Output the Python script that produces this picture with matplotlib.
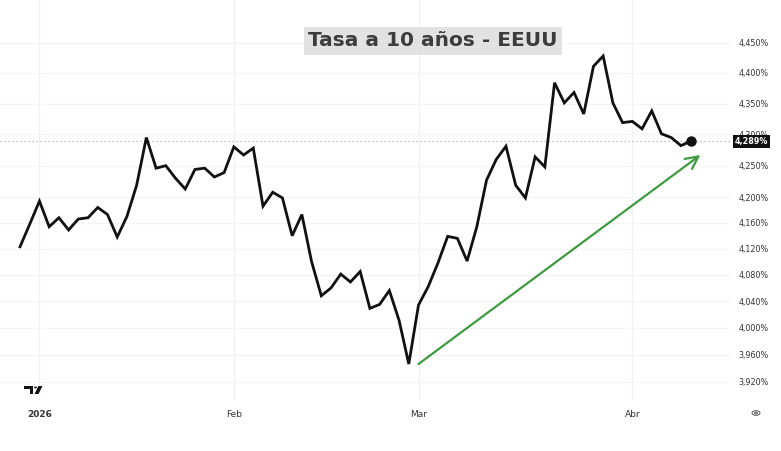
import numpy as np
import matplotlib
matplotlib.use("Agg")
import matplotlib.pyplot as plt
from matplotlib.ticker import FixedLocator, FuncFormatter, NullLocator
from matplotlib.transforms import blended_transform_factory
from matplotlib.patches import Polygon, Circle

# ---------------- data ----------------
title = "Tasa a 10 años - EEUU"
yields = [4.123, 4.158, 4.194, 4.154, 4.168, 4.149, 4.166, 4.168, 4.184, 4.173,
          4.138, 4.170, 4.219, 4.295, 4.246, 4.250, 4.230, 4.213, 4.244, 4.246,
          4.232, 4.239, 4.280, 4.267, 4.278, 4.186, 4.208, 4.199, 4.140, 4.173,
          4.100, 4.048, 4.060, 4.081, 4.069, 4.085, 4.029, 4.035, 4.056, 4.011,
          3.946, 4.034, 4.062, 4.098, 4.139, 4.136, 4.101, 4.154, 4.227, 4.260,
          4.281, 4.219, 4.199, 4.264, 4.248, 4.384, 4.351, 4.368, 4.333, 4.411,
          4.428, 4.351, 4.319, 4.321, 4.309, 4.338, 4.301, 4.295, 4.282, 4.289]
month_labels = ["2026", "Feb", "Mar", "Abr"]
month_index = [2, 22, 41, 63]
y_ticks = [3.92, 3.96, 4.00, 4.04, 4.08, 4.12, 4.16, 4.20, 4.25, 4.30, 4.35, 4.40, 4.45]
last_value = 4.289
arrow_start = (41, 3.946)
arrow_end = (70, 4.267)

# ---------------- figure ----------------
W, H = 781, 451
fig = plt.figure(figsize=(W / 100, H / 100), dpi=100)
fig.patch.set_facecolor("white")
ax = fig.add_axes([0, 51 / H, 730 / W, 400 / H])
ax.set_facecolor("white")

x = np.arange(len(yields))
ax.set_yscale("log")
ax.set_xlim(-2.06, 73.05)
ax.set_ylim(3.8932, 4.5218)

# grid
for xi in month_index:
    ax.axvline(xi, color="#f1f1f1", lw=0.9, zorder=0)
for yt in y_ticks:
    ax.axhline(yt, color="#f4f4f4", lw=0.9, zorder=0)

# last price dotted line
ax.axhline(last_value, color="#bdbdbd", lw=0.9, ls=(0, (1.2, 2.0)), zorder=1)

# main line
ax.plot(x, yields, color="#111111", lw=2.0, solid_joinstyle="miter", zorder=4)
ax.plot(x[-1], yields[-1], "o", color="#111111", ms=6.5, zorder=5)

# green arrow
ax.annotate("", xy=arrow_end, xytext=arrow_start,
            arrowprops=dict(arrowstyle="->,head_length=0.9,head_width=0.45",
                            color="#3f9b3f", lw=1.6, shrinkA=0, shrinkB=0),
            zorder=3)

# axes styling
for s in ax.spines.values():
    s.set_visible(False)
ax.yaxis.tick_right()
ax.yaxis.set_major_locator(FixedLocator(y_ticks))
ax.yaxis.set_minor_locator(NullLocator())
ax.yaxis.set_major_formatter(FuncFormatter(lambda v, p: f"{v:.3f}".replace(".", ",") + "%"))
ax.tick_params(axis="y", length=0, pad=6, labelsize=5.8, labelcolor="#333333")
ax.xaxis.set_major_locator(FixedLocator(month_index))
ax.xaxis.set_minor_locator(NullLocator())
ax.set_xticklabels(month_labels)
ax.tick_params(axis="x", length=0, pad=7, labelsize=6.5, labelcolor="#333333")
ax.get_xticklabels()[0].set_fontweight("bold")

# last price label
tr = blended_transform_factory(ax.transAxes, ax.transData)
ax.text(1.0068, last_value, f"{last_value:.3f}".replace(".", ",") + "%",
        transform=tr, ha="left", va="center", fontsize=5.8, fontweight="bold",
        color="white", clip_on=False, zorder=10,
        bbox=dict(boxstyle="square,pad=0.25", fc="#111111", ec="none"))

# title
ax.text(433 / 730, 1 - 41 / 400, title, transform=ax.transAxes, ha="center", va="center",
        fontsize=14.5, fontweight="bold", color="#3c3c3c", family="DejaVu Sans", zorder=10,
        bbox=dict(boxstyle="square,pad=0.2", fc="#e2e2e2", ec="none"))

# TradingView-like logo (decoration, pixel coords)
def px(xp, yp):
    return (xp / W, 1 - yp / H)
logo_t = Polygon([px(24, 386), px(33, 386), px(33, 394), px(29.5, 394), px(29.5, 389), px(24, 389)],
                 closed=True, transform=fig.transFigure, fc="#111111", ec="none")
logo_s = Polygon([px(38.5, 386), px(42.5, 386), px(38.5, 394), px(34.5, 394)],
                 closed=True, transform=fig.transFigure, fc="#111111", ec="none")
fig.patches.extend([logo_t, logo_s])
fig.patches.append(Circle(px(35.5, 387.5), 1.5 / W, transform=fig.transFigure, fc="#111111", ec="none"))

# settings icon
fig.patches.append(Circle(px(756, 413), 4.0 / W, transform=fig.transFigure, fc="none", ec="#555555", lw=0.7))
fig.patches.append(Circle(px(756, 413), 1.5 / W, transform=fig.transFigure, fc="none", ec="#555555", lw=0.7))

fig.savefig("out.png", dpi=100, facecolor="white")
